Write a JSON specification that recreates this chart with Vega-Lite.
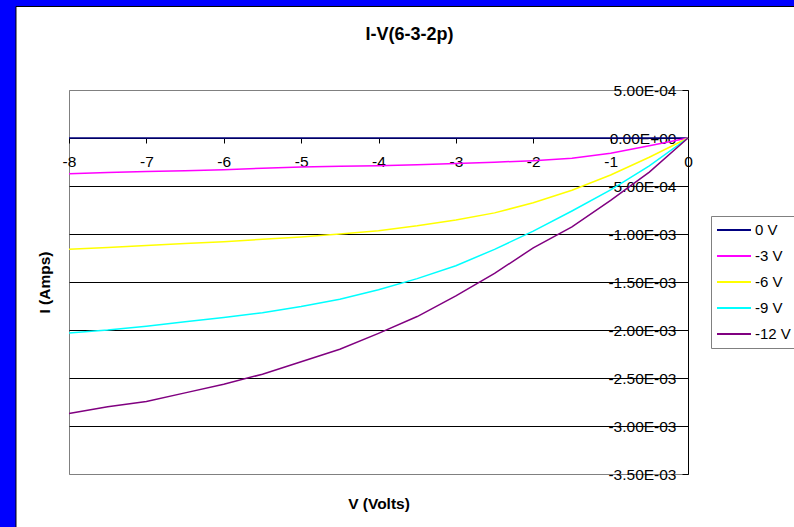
{
  "$schema": "https://vega.github.io/schema/vega-lite/v6.json",
  "width": 619,
  "height": 384,
  "autosize": {"type": "none"},
  "padding": {"left": 69, "top": 90, "right": 106, "bottom": 53},
  "background": "#ffffff",
  "config": {
    "font": "Liberation Sans",
    "view": {"stroke": "#808080", "strokeWidth": 1}
  },
  "title": {"text": "I-V(6-3-2p)", "fontSize": 18, "fontWeight": "bold", "font": "Liberation Sans", "color": "#000000", "anchor": "middle", "dx": 31, "offset": 0, "dy": 44},
  "resolve": {"axis": {"x": "independent", "y": "independent"}},
  "datasets": {
    "iv": [
      {"V": -8, "I": 0, "s": "0 V"}, {"V": -7.5, "I": 0, "s": "0 V"}, {"V": -7, "I": 0, "s": "0 V"}, {"V": -6.5, "I": 0, "s": "0 V"}, {"V": -6, "I": 0, "s": "0 V"}, {"V": -5.5, "I": 0, "s": "0 V"}, {"V": -5, "I": 0, "s": "0 V"}, {"V": -4.5, "I": 0, "s": "0 V"}, {"V": -4, "I": 0, "s": "0 V"}, {"V": -3.5, "I": 0, "s": "0 V"}, {"V": -3, "I": 0, "s": "0 V"}, {"V": -2.5, "I": 0, "s": "0 V"}, {"V": -2, "I": 0, "s": "0 V"}, {"V": -1.5, "I": 0, "s": "0 V"}, {"V": -1, "I": 0, "s": "0 V"}, {"V": -0.5, "I": 0, "s": "0 V"}, {"V": 0, "I": 0, "s": "0 V"},
      {"V": -8, "I": -0.000373, "s": "-3 V"}, {"V": -7.5, "I": -0.00036, "s": "-3 V"}, {"V": -7, "I": -0.00035, "s": "-3 V"}, {"V": -6.5, "I": -0.00034, "s": "-3 V"}, {"V": -6, "I": -0.00033, "s": "-3 V"}, {"V": -5.5, "I": -0.000315, "s": "-3 V"}, {"V": -5, "I": -0.000302, "s": "-3 V"}, {"V": -4.5, "I": -0.000295, "s": "-3 V"}, {"V": -4, "I": -0.000288, "s": "-3 V"}, {"V": -3.5, "I": -0.000278, "s": "-3 V"}, {"V": -3, "I": -0.000266, "s": "-3 V"}, {"V": -2.5, "I": -0.000252, "s": "-3 V"}, {"V": -2, "I": -0.000236, "s": "-3 V"}, {"V": -1.5, "I": -0.000212, "s": "-3 V"}, {"V": -1, "I": -0.000158, "s": "-3 V"}, {"V": -0.5, "I": -0.00008, "s": "-3 V"}, {"V": 0, "I": 0, "s": "-3 V"},
      {"V": -8, "I": -0.00116, "s": "-6 V"}, {"V": -7.5, "I": -0.00114, "s": "-6 V"}, {"V": -7, "I": -0.00112, "s": "-6 V"}, {"V": -6.5, "I": -0.0011, "s": "-6 V"}, {"V": -6, "I": -0.00108, "s": "-6 V"}, {"V": -5.5, "I": -0.001055, "s": "-6 V"}, {"V": -5, "I": -0.00103, "s": "-6 V"}, {"V": -4.5, "I": -0.001, "s": "-6 V"}, {"V": -4, "I": -0.000965, "s": "-6 V"}, {"V": -3.5, "I": -0.000915, "s": "-6 V"}, {"V": -3, "I": -0.000855, "s": "-6 V"}, {"V": -2.5, "I": -0.00078, "s": "-6 V"}, {"V": -2, "I": -0.000675, "s": "-6 V"}, {"V": -1.5, "I": -0.000545, "s": "-6 V"}, {"V": -1, "I": -0.000385, "s": "-6 V"}, {"V": -0.5, "I": -0.0002, "s": "-6 V"}, {"V": 0, "I": 0, "s": "-6 V"},
      {"V": -8, "I": -0.00203, "s": "-9 V"}, {"V": -7.5, "I": -0.002, "s": "-9 V"}, {"V": -7, "I": -0.00196, "s": "-9 V"}, {"V": -6.5, "I": -0.001915, "s": "-9 V"}, {"V": -6, "I": -0.00187, "s": "-9 V"}, {"V": -5.5, "I": -0.00182, "s": "-9 V"}, {"V": -5, "I": -0.001755, "s": "-9 V"}, {"V": -4.5, "I": -0.00168, "s": "-9 V"}, {"V": -4, "I": -0.00158, "s": "-9 V"}, {"V": -3.5, "I": -0.001465, "s": "-9 V"}, {"V": -3, "I": -0.00133, "s": "-9 V"}, {"V": -2.5, "I": -0.00116, "s": "-9 V"}, {"V": -2, "I": -0.00097, "s": "-9 V"}, {"V": -1.5, "I": -0.00076, "s": "-9 V"}, {"V": -1, "I": -0.00054, "s": "-9 V"}, {"V": -0.5, "I": -0.00029, "s": "-9 V"}, {"V": 0, "I": 0, "s": "-9 V"},
      {"V": -8, "I": -0.00287, "s": "-12 V"}, {"V": -7.5, "I": -0.0028, "s": "-12 V"}, {"V": -7, "I": -0.002745, "s": "-12 V"}, {"V": -6.5, "I": -0.002655, "s": "-12 V"}, {"V": -6, "I": -0.002565, "s": "-12 V"}, {"V": -5.5, "I": -0.00246, "s": "-12 V"}, {"V": -5, "I": -0.00233, "s": "-12 V"}, {"V": -4.5, "I": -0.0022, "s": "-12 V"}, {"V": -4, "I": -0.002035, "s": "-12 V"}, {"V": -3.5, "I": -0.00186, "s": "-12 V"}, {"V": -3, "I": -0.001645, "s": "-12 V"}, {"V": -2.5, "I": -0.00141, "s": "-12 V"}, {"V": -2, "I": -0.001145, "s": "-12 V"}, {"V": -1.5, "I": -0.000925, "s": "-12 V"}, {"V": -1, "I": -0.00065, "s": "-12 V"}, {"V": -0.5, "I": -0.000355, "s": "-12 V"}, {"V": 0, "I": 0, "s": "-12 V"}
    ]
  },
  "layer": [
    {
      "data": {"values": [{}]},
      "mark": {"type": "rect", "fill": "#0000ff", "strokeWidth": 0},
      "encoding": {
        "x": {"datum": -8.892, "type": "quantitative", "scale": {"domain": [-8, 0], "nice": false, "zero": false},
          "axis": {"orient": "bottom", "title": "V (Volts)", "labels": false, "ticks": false, "domain": false, "grid": false, "titleFontSize": 15.5, "titleFontWeight": "bold", "titleColor": "#000000", "titleFont": "Liberation Sans", "titlePadding": 22}},
        "x2": {"datum": -8.685},
        "y": {"datum": 0.0014375, "type": "quantitative", "scale": {"domain": [-0.0035, 0.0005], "nice": false, "zero": false},
          "axis": {"orient": "left", "title": "I (Amps)", "labels": false, "ticks": false, "domain": false, "grid": false, "titleFontSize": 15.5, "titleFontWeight": "bold", "titleColor": "#000000", "titleFont": "Liberation Sans", "titlePadding": 17}},
        "y2": {"datum": -0.004052}
      }
    },
    {
      "data": {"values": [{}]},
      "mark": {"type": "rect", "fill": "#0000ff", "strokeWidth": 0},
      "encoding": {
        "x": {"datum": -8.685, "type": "quantitative", "scale": {"domain": [-8, 0], "nice": false, "zero": false}, "axis": null},
        "x2": {"datum": 1.37},
        "y": {"datum": 0.0014375, "type": "quantitative", "scale": {"domain": [-0.0035, 0.0005], "nice": false, "zero": false}, "axis": null},
        "y2": {"datum": 0.0013698}
      }
    },
    {
      "data": {"values": [{}]},
      "mark": {"type": "rule", "color": "#000000", "strokeWidth": 1},
      "encoding": {
        "x": {"datum": -8.685, "type": "quantitative", "scale": {"domain": [-8, 0], "nice": false, "zero": false}, "axis": null},
        "y": {"datum": 0.0013698, "type": "quantitative", "scale": {"domain": [-0.0035, 0.0005], "nice": false, "zero": false}, "axis": null},
        "y2": {"datum": -0.004052}
      }
    },
    {
      "data": {"values": [{}]},
      "mark": {"type": "rule", "color": "#000000", "strokeWidth": 1},
      "encoding": {
        "x": {"datum": -8.685, "type": "quantitative", "scale": {"domain": [-8, 0], "nice": false, "zero": false}, "axis": null},
        "x2": {"datum": 1.37},
        "y": {"datum": 0.0013698, "type": "quantitative", "scale": {"domain": [-0.0035, 0.0005], "nice": false, "zero": false}, "axis": null}
      }
    },
    {
      "data": {"name": "iv"},
      "mark": {"type": "line", "strokeWidth": 1.5},
      "encoding": {
        "x": {"field": "V", "type": "quantitative", "scale": {"domain": [-8, 0], "nice": false, "zero": false},
          "axis": {"orient": "bottom", "offset": -336, "title": null, "values": [-8, -7, -6, -5, -4, -3, -2, -1, 0],
            "labelExpr": "datum.value < 0 ? '-' + abs(datum.value) : '' + datum.value",
            "labelFontSize": 15.5, "labelColor": "#000000", "labelFont": "Liberation Sans", "labelPadding": 11, "labelFlush": false, "labelOverlap": false,
            "tickSize": 5, "tickColor": "#000000", "domainColor": "#000000", "grid": false}},
        "y": {"field": "I", "type": "quantitative", "scale": {"domain": [-0.0035, 0.0005], "nice": false, "zero": false},
          "axis": {"orient": "left", "offset": -619, "title": null,
            "values": [0.0005, 0, -0.0005, -0.001, -0.0015, -0.002, -0.0025, -0.003, -0.0035],
            "labelExpr": "(datum.value < 0 ? '-' : '') + replace(replace(upper(format(abs(datum.value), '.2e')), 'E-', 'E-0'), 'E+', 'E+0')",
            "labelFontSize": 15.5, "labelColor": "#000000", "labelFont": "Liberation Sans", "labelPadding": 6, "labelOverlap": false, "labelFlush": false,
            "tickSize": 6, "tickColor": "#000000", "domainColor": "#000000",
            "grid": true, "gridColor": {"condition": {"test": "datum.value === 0.0005 || datum.value === -0.0035", "value": "#808080"}, "value": "#000000"}, "gridWidth": 1}},
        "color": {"field": "s", "type": "nominal",
          "scale": {"domain": ["0 V", "-3 V", "-6 V", "-9 V", "-12 V"], "range": ["#000080", "#ff00ff", "#ffff00", "#00ffff", "#800080"]},
          "legend": {"orient": "none", "legendX": 642, "legendY": 126, "title": null, "padding": 5,
            "strokeColor": "#808080", "fillColor": "#ffffff", "symbolType": "stroke", "symbolSize": 1156, "symbolStrokeWidth": 2,
            "labelFontSize": 15, "labelColor": "#000000", "labelFont": "Liberation Sans", "labelOffset": 3, "clipHeight": 18, "rowPadding": 8}}
      }
    }
  ]
}
